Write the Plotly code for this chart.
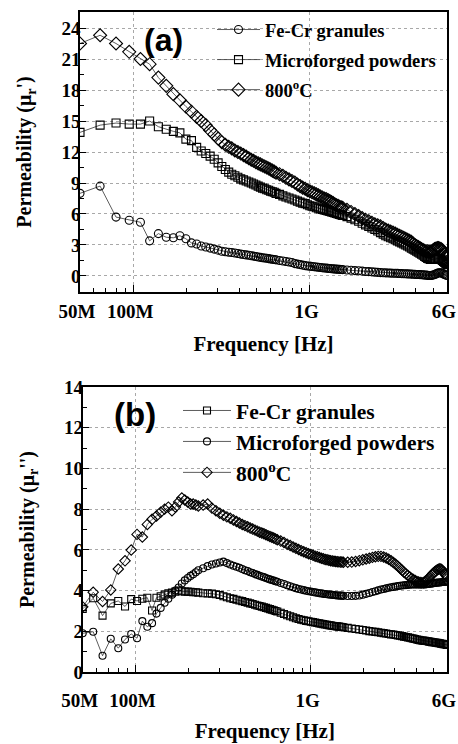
import plotly.graph_objects as go

# ---------------- data: panel (a) real permeability ----------------
FREQ_A_MHZ = [50, 65, 80, 95, 110, 124, 139, 154, 169, 184, 199, 214, 229, 243, 258, 273, 288, 303, 318, 333,
              348, 362, 377, 392, 407, 422, 437, 452, 467, 481, 496, 511, 526, 541, 556, 571, 586, 600, 615, 630, 645,
              675, 705, 734, 764, 794, 824, 853, 883, 913, 943, 972, 1002, 1032, 1062, 1091, 1121, 1151, 1181, 1210,
              1240, 1270, 1300, 1329, 1359, 1389, 1419, 1448, 1478, 1508, 1538,
              1627, 1716, 1805, 1895, 1984, 2073, 2162, 2252, 2341, 2430, 2519, 2609, 2698, 2787, 2876, 2966, 3055,
              3144, 3233, 3323, 3412, 3501, 3590, 3680, 3769, 3858, 3947, 4037, 4126, 4215, 4304, 4394, 4483, 4572,
              4661, 4751, 4840, 4929, 5018, 5108, 5197, 5286, 5375, 5465, 5554, 5643, 5732, 5822, 5911, 6000]

A_FECR = [8.0, 8.7, 5.7, 5.4, 5.2, 3.4, 4.1, 3.75, 3.7, 3.9, 3.6, 3.2, 3.1, 2.9, 2.8, 2.7, 2.6, 2.5, 2.4, 2.35,
          2.3, 2.27, 2.22, 2.17, 2.12, 2.08, 2.04, 2.0, 1.96, 1.92, 1.88, 1.84, 1.8, 1.77, 1.74, 1.71, 1.68, 1.65, 1.62, 1.59, 1.56,
          1.5, 1.45, 1.4, 1.35, 1.3, 1.2, 1.15, 1.1, 1.05, 1.0, 0.97, 0.95, 0.92, 0.9, 0.87, 0.85, 0.82, 0.8, 0.78, 0.76,
          0.74, 0.72, 0.7, 0.69, 0.68, 0.66, 0.65, 0.64, 0.63, 0.62,
          0.58, 0.55, 0.52, 0.5, 0.47, 0.44, 0.42, 0.4, 0.37, 0.35, 0.33, 0.32, 0.3, 0.29, 0.28, 0.27, 0.26, 0.25, 0.24, 0.23,
          0.22, 0.21, 0.2, 0.19, 0.18, 0.17, 0.16, 0.15, 0.14, 0.13, 0.12, 0.11, 0.1, 0.08, 0.06, 0.05, 0.05, 0.06, 0.1, 0.15,
          0.2, 0.25, 0.3, 0.32, 0.3, 0.25, 0.2, 0.15, 0.1, 0.05]

A_MICRO = [13.9, 14.6, 14.8, 14.7, 14.7, 15.0, 14.45, 14.2, 14.0, 13.85, 13.25, 13.1, 12.45, 12.1, 11.85, 11.6, 11.3, 10.95, 10.6, 10.3,
           10.05, 9.85, 9.7, 9.55, 9.4, 9.3, 9.2, 9.1, 9.0, 8.9, 8.8, 8.7, 8.6, 8.5, 8.45, 8.35, 8.3, 8.2, 8.15, 8.1, 8.0,
           7.9, 7.75, 7.65, 7.55, 7.45, 7.35, 7.25, 7.15, 7.05, 7.0, 6.9, 6.8, 6.75, 6.7, 6.6, 6.55, 6.5, 6.45, 6.4, 6.35,
           6.3, 6.25, 6.2, 6.15, 6.1, 6.05, 6.0, 5.95, 5.9, 5.85,
           5.75, 5.6, 5.45, 5.3, 5.1, 4.95, 4.8, 4.65, 4.5, 4.35, 4.2, 4.05, 3.9, 3.8, 3.7, 3.6, 3.5, 3.4, 3.3, 3.2,
           3.1, 3.0, 2.9, 2.8, 2.7, 2.6, 2.5, 2.4, 2.3, 2.2, 2.1, 2.0, 1.9, 1.8, 1.7, 1.65, 1.6, 1.6, 1.6, 1.6,
           1.65, 1.7, 1.7, 1.65, 1.6, 1.5, 1.4, 1.3, 1.2, 1.1]

A_800 = [22.5, 23.3, 22.5, 21.7, 21.0, 20.5, 19.2, 18.4, 17.6, 17.0, 16.4, 15.9, 15.4, 15.0, 14.6, 14.1, 13.7, 13.3, 12.95, 12.7,
         12.5, 12.35, 12.15, 12.0, 11.85, 11.7, 11.55, 11.4, 11.25, 11.15, 11.0, 10.9, 10.8, 10.7, 10.6, 10.5, 10.4, 10.3, 10.2, 10.1, 10.0,
         9.85, 9.7, 9.5, 9.35, 9.2, 9.05, 8.85, 8.7, 8.55, 8.45, 8.3, 8.2, 8.1, 8.0, 7.9, 7.8, 7.7, 7.6, 7.5, 7.45,
         7.35, 7.25, 7.15, 7.05, 6.95, 6.85, 6.8, 6.7, 6.65, 6.6,
         6.4, 6.2, 6.0, 5.8, 5.6, 5.45, 5.3, 5.15, 5.0, 4.9, 4.8, 4.65, 4.5, 4.4, 4.3, 4.2, 4.1, 4.0, 3.9, 3.8,
         3.7, 3.6, 3.5, 3.4, 3.3, 3.15, 3.0, 2.9, 2.8, 2.7, 2.6, 2.5, 2.45, 2.4, 2.4, 2.35, 2.35, 2.4, 2.5, 2.6,
         2.65, 2.7, 2.7, 2.65, 2.6, 2.5, 2.3, 2.1, 1.9, 1.8]

# ---------------- data: panel (b) imaginary permeability ----------------
FREQ_B_MHZ = [50, 57.4, 64.9, 72.3, 79.8, 87.2, 94.6, 102.1, 109.5, 116.9, 124.4, 131.8, 139.3, 146.7, 154.1, 161.6,
              169.0, 176.4, 183.9, 191.3, 198.8, 206.2, 213.6, 221.1, 228.5,
              243.4, 258.3, 273.1, 288.0, 302.9, 317.8, 332.6, 347.5, 362.4, 377.3, 392.1, 407.0, 421.9, 436.8,
              451.6, 466.5, 481.4, 496.3, 511.1, 526.0, 540.9, 555.8, 570.6, 585.5, 600.4, 615.3, 630.1, 645.0,
              674.8, 704.5, 734.3, 764.0, 793.8, 823.5, 853.3, 883.0, 912.8, 942.5, 972.3, 1002.0, 1031.8, 1061.5,
              1091.3, 1121.0, 1150.8, 1180.5, 1210.3, 1240.0, 1269.8, 1299.5, 1329.3, 1359.0, 1388.8, 1418.5,
              1448.3, 1478.0, 1507.8, 1537.5,
              1627, 1716, 1805, 1895, 1984, 2073, 2162, 2252, 2341, 2430, 2519, 2609, 2698, 2787, 2876, 2966, 3055,
              3144, 3233, 3323, 3412, 3501, 3590, 3680, 3769, 3858, 3947, 4037, 4126, 4215, 4304, 4394, 4483, 4572,
              4661, 4751, 4840, 4929, 5018, 5108, 5197, 5286, 5375, 5465, 5554, 5643, 5732, 5822, 5911, 6000]

B_FECR = [3.1, 3.62, 2.77, 3.37, 3.49, 3.22, 3.58, 3.49, 3.6, 3.65, 3.02, 3.65, 3.72, 3.8, 3.86, 3.9, 3.95, 4.0, 3.97, 3.95,
          3.95, 3.94, 3.92, 3.92, 3.9,
          3.87, 3.86, 3.85, 3.82, 3.78, 3.72, 3.67, 3.62, 3.59, 3.55, 3.51, 3.48, 3.44, 3.41, 3.37, 3.34, 3.3, 3.27,
          3.24, 3.21, 3.18, 3.15, 3.12, 3.09, 3.06, 3.03, 3.0, 2.97,
          2.91, 2.85, 2.79, 2.74, 2.69, 2.64, 2.6, 2.57, 2.54, 2.51, 2.49, 2.47, 2.45, 2.43, 2.41, 2.39, 2.37, 2.35,
          2.33, 2.32, 2.3, 2.29, 2.27, 2.26, 2.25, 2.24, 2.23, 2.22, 2.21, 2.2,
          2.17, 2.14, 2.11, 2.09, 2.06, 2.04, 2.01, 1.99, 1.97, 1.95, 1.93, 1.91, 1.89, 1.87, 1.85, 1.84, 1.82, 1.8,
          1.78, 1.76, 1.74, 1.72, 1.7, 1.68, 1.66, 1.64, 1.62, 1.6, 1.58, 1.56, 1.55, 1.54, 1.53, 1.52, 1.51, 1.49,
          1.48, 1.47, 1.46, 1.45, 1.44, 1.43, 1.42, 1.41, 1.39, 1.38, 1.37, 1.36, 1.35, 1.33]

B_MICRO = [1.9, 1.98, 0.8, 1.63, 1.17, 1.6, 1.87, 1.66, 2.5, 2.22, 2.4, 2.87, 3.15, 3.4, 3.6, 3.8, 4.0, 4.15, 4.35, 4.5,
           4.62, 4.72, 4.8, 4.9, 5.0,
           5.1, 5.2, 5.28, 5.33, 5.38, 5.42, 5.35, 5.28, 5.22, 5.17, 5.12, 5.06, 5.0, 4.96, 4.9, 4.86, 4.81, 4.77,
           4.73, 4.69, 4.66, 4.62, 4.58, 4.55, 4.52, 4.49, 4.46, 4.43,
           4.37, 4.32, 4.26, 4.21, 4.16, 4.12, 4.08, 4.05, 4.02, 3.99, 3.97, 3.95, 3.93, 3.91, 3.89, 3.87, 3.86, 3.84,
           3.83, 3.82, 3.81, 3.8, 3.79, 3.78, 3.77, 3.76, 3.76, 3.75, 3.75, 3.74,
           3.73, 3.73, 3.74, 3.76, 3.8, 3.84, 3.88, 3.93, 3.97, 4.01, 4.05, 4.08, 4.11, 4.14, 4.16, 4.18, 4.2, 4.22,
           4.24, 4.25, 4.26, 4.27, 4.28, 4.29, 4.3, 4.3, 4.3, 4.3, 4.3, 4.3, 4.3, 4.3, 4.3, 4.31, 4.32, 4.33,
           4.34, 4.35, 4.36, 4.37, 4.38, 4.39, 4.4, 4.4, 4.41, 4.42, 4.42, 4.43, 4.43, 4.44]

B_800 = [3.2, 3.92, 3.46, 4.03, 5.06, 5.46, 5.99, 6.76, 6.63, 7.25, 7.5, 7.66, 7.85, 8.0, 8.1, 7.92, 8.1, 8.35, 8.55, 8.45,
         8.35, 8.25, 8.25, 8.2, 8.15,
         8.2, 8.25, 8.05, 7.92, 7.8, 7.7, 7.62, 7.55, 7.47, 7.39, 7.32, 7.25, 7.19, 7.13, 7.07, 7.02, 6.97, 6.92,
         6.87, 6.83, 6.79, 6.74, 6.7, 6.66, 6.62, 6.58, 6.54, 6.5,
         6.43, 6.36, 6.28, 6.21, 6.14, 6.08, 6.02, 5.96, 5.91, 5.86, 5.81, 5.77, 5.73, 5.69, 5.66, 5.62, 5.59, 5.56,
         5.53, 5.51, 5.49, 5.47, 5.45, 5.44, 5.43, 5.42, 5.41, 5.4, 5.4, 5.39,
         5.39, 5.4, 5.43, 5.47, 5.51, 5.55, 5.59, 5.63, 5.66, 5.68, 5.68, 5.65, 5.6, 5.54, 5.46, 5.38, 5.29, 5.2,
         5.1, 5.0, 4.9, 4.82, 4.74, 4.67, 4.6, 4.54, 4.49, 4.45, 4.42, 4.4, 4.39, 4.4, 4.43, 4.48, 4.55, 4.63,
         4.71, 4.79, 4.86, 4.92, 4.97, 5.02, 5.05, 5.07, 5.05, 5.0, 4.92, 4.83, 4.75, 4.68]

X_TICKS_HZ = [5e7, 1e8, 1e9, 6e9]
X_TICK_TEXT = ["50M", "100M", "1G", "6G"]
X_MINOR_HZ = [6e7, 7e7, 8e7, 9e7, 2e8, 3e8, 4e8, 5e8, 6e8, 7e8, 8e8, 9e8, 2e9, 3e9, 4e9, 5e9]

for arr in (A_FECR, A_MICRO, A_800):
    assert len(arr) == len(FREQ_A_MHZ), (len(arr), len(FREQ_A_MHZ))
for arr in (B_FECR, B_MICRO, B_800):
    assert len(arr) == len(FREQ_B_MHZ), (len(arr), len(FREQ_B_MHZ))

W, H = 458, 744
SERIF = "Liberation Serif"

fa = [f * 1e6 for f in FREQ_A_MHZ]
fb = [f * 1e6 for f in FREQ_B_MHZ]

fig = go.Figure()


def add(x, y, name, symbol, size, xa, ya, legend, group):
    fig.add_trace(go.Scatter(
        x=x, y=y, name=name, mode="lines+markers", xaxis=xa, yaxis=ya,
        legend=legend, legendgroup=group,
        line=dict(color="#333333", width=0.8),
        marker=dict(symbol=symbol, size=size, color="black", line=dict(color="black", width=1.1)),
    ))


add(fa, A_FECR, "Fe-Cr granules", "circle-open", 8, "x", "y", "legend", "a1")
add(fa, A_MICRO, "Microforged powders", "square-open", 8, "x", "y", "legend", "a2")
add(fa, A_800, "800<sup>o</sup>C", "diamond-open", 10, "x", "y", "legend", "a3")

add(fb, B_FECR, "Fe-Cr granules", "square-open", 7, "x2", "y2", "legend2", "b1")
add(fb, B_MICRO, "Microforged powders", "circle-open", 7, "x2", "y2", "legend2", "b2")
add(fb, B_800, "800<sup>o</sup>C", "diamond-open", 8, "x2", "y2", "legend2", "b3")

tickfont = dict(family=SERIF, size=19, color="black", weight="bold")
titlefont = dict(family=SERIF, size=21, color="black", weight="bold")
GRID = "#a8a8a8"


def xaxis(domain, anchor, standoff_lbl, title_standoff):
    return dict(
        type="log", domain=domain, anchor=anchor, automargin=False,
        range=[7.69897, 9.77815],
        tickmode="array", tickvals=X_TICKS_HZ, ticktext=X_TICK_TEXT,
        ticks="inside", ticklen=7, tickwidth=1.2, tickcolor="black",
        minor=dict(tickmode="array", tickvals=X_MINOR_HZ, ticks="inside", ticklen=4,
                   tickwidth=1, tickcolor="black", showgrid=False),
        showgrid=True, gridcolor=GRID, griddash="dot", gridwidth=1,
        showline=True, linecolor="black", linewidth=1.6, mirror=True,
        tickfont=tickfont, ticklabelstandoff=standoff_lbl, ticklabeloverflow="allow",
        ticklabelshift=-3,
        title=dict(text="Frequency [Hz]", font=titlefont, standoff=title_standoff),
        zeroline=False,
    )


def yaxis(domain, anchor, rng, dtick, minor, title):
    return dict(
        domain=domain, anchor=anchor, range=rng, automargin=False,
        tick0=0, dtick=dtick,
        ticks="inside", ticklen=6, tickwidth=1.2, tickcolor="black",
        minor=dict(dtick=minor, tick0=0, ticks="inside", ticklen=4, tickwidth=1,
                   tickcolor="black", showgrid=False),
        showgrid=True, gridcolor=GRID, griddash="dot", gridwidth=1,
        showline=True, linecolor="black", linewidth=1.6, mirror=True,
        tickfont=tickfont, ticklabelstandoff=-6,
        title=dict(text=title, font=dict(family=SERIF, size=20, color="black", weight="bold"), standoff=24),
        zeroline=False,
    )


fig.update_layout(
    width=W, height=H, autosize=False,
    margin=dict(l=0, r=0, t=0, b=0),
    paper_bgcolor="white", plot_bgcolor="white",
    font=dict(family=SERIF, color="black"),
    xaxis=xaxis([80 / W, 447 / W], "y", 1, 16),
    yaxis=yaxis([1 - 292 / H, 1 - 12 / H], "x", [-1.55, 25.55], 3, 1.5,
                "Permeability (μ<sub>r</sub>')"),
    xaxis2=xaxis([82.7 / W, 447 / W], "y2", 10, 14),
    yaxis2=yaxis([1 - 672 / H, 1 - 387 / H], "x2", [0, 14], 2, 1,
                 "Permeability (μ<sub>r</sub>'')"),
    legend=dict(x=212 / W, y=1 - 11 / H, xanchor="left", yanchor="top",
                font=dict(family=SERIF, size=18.5, color="black", weight="bold"),
                bgcolor="rgba(0,0,0,0)", borderwidth=0, itemwidth=43,
                tracegroupgap=3, traceorder="grouped"),
    legend2=dict(x=178 / W, y=1 - 390 / H, xanchor="left", yanchor="top",
                 font=dict(family=SERIF, size=21.5, color="black", weight="bold"),
                 bgcolor="rgba(0,0,0,0)", borderwidth=0, itemwidth=48,
                 tracegroupgap=0, traceorder="grouped"),
    annotations=[
        dict(text="(a)", x=163 / W, y=1 - 40 / H, xref="paper", yref="paper",
             xanchor="center", yanchor="middle", showarrow=False,
             font=dict(family="Liberation Sans", size=32, color="black", weight="bold")),
        dict(text="(b)", x=135 / W, y=1 - 415 / H, xref="paper", yref="paper",
             xanchor="center", yanchor="middle", showarrow=False,
             font=dict(family="Liberation Sans", size=33, color="black", weight="bold")),
    ],
)

fig.write_html("out.html", config={"displayModeBar": False},
               post_script="document.body.style.margin='0';document.body.style.overflow='hidden';")
